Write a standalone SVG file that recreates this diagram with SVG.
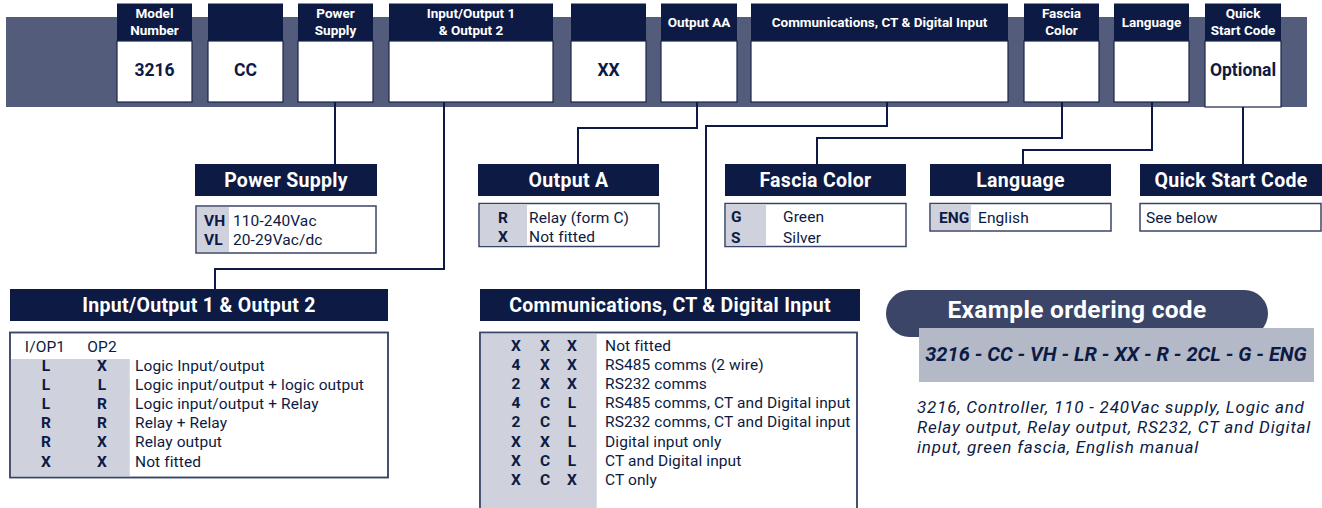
<svg xmlns="http://www.w3.org/2000/svg" width="1322" height="508" viewBox="0 0 1322 508">
<style>
text{font-family:Roboto,"Open Sans","DejaVu Sans",sans-serif;fill:#0c1a44}
.hd{fill:#0c1a44}
.wb{fill:#ffffff;stroke:#1a2448;stroke-width:1.2}
.ht{font-size:13.5px;font-weight:bold;fill:#ffffff;text-anchor:middle}
.val{font-size:17.5px;font-weight:bold;text-anchor:middle}
.st{font-size:19.5px;font-weight:bold;fill:#ffffff;text-anchor:middle;letter-spacing:0.3px}
.tb{fill:#ffffff;stroke:#3a4467;stroke-width:1.5}
.tbo{fill:none;stroke:#3a4467;stroke-width:1.5}
.gc{fill:#cfd2dc}
.t{font-size:15.5px;letter-spacing:0.1px}
.b{font-size:15.5px;font-weight:bold}
.m{text-anchor:middle}
.con{fill:none;stroke:#0c1a44;stroke-width:2}
.it{font-size:17px;font-style:italic;letter-spacing:0.8px}
</style>
<rect x="6" y="17" width="1301" height="90" fill="#535d7b"/>
<g id="box-model">
<rect class="hd" x="117" y="3.5" width="75" height="38"/>
<rect class="wb" x="117" y="41" width="75" height="61"/>
<text class="ht" x="154.5" y="18">Model</text>
<text class="ht" x="154.5" y="34.5">Number</text>
<text class="val" x="154.5" y="75.5">3216</text>
</g>
<g id="box-cc">
<rect class="hd" x="208" y="3.5" width="75" height="38"/>
<rect class="wb" x="208" y="41" width="75" height="61"/>
<text class="val" x="245.5" y="75.5">CC</text>
</g>
<g id="box-ps">
<rect class="hd" x="298" y="3.5" width="75" height="38"/>
<rect class="wb" x="298" y="41" width="75" height="61"/>
<text class="ht" x="335.5" y="18">Power</text>
<text class="ht" x="335.5" y="34.5">Supply</text>
</g>
<g id="box-io">
<rect class="hd" x="389" y="3.5" width="164" height="38"/>
<rect class="wb" x="389" y="41" width="164" height="61"/>
<text class="ht" x="471" y="18">Input/Output 1</text>
<text class="ht" x="471" y="34.5">&amp; Output 2</text>
</g>
<g id="box-xx">
<rect class="hd" x="571" y="3.5" width="75" height="38"/>
<rect class="wb" x="571" y="41" width="75" height="61"/>
<text class="val" x="608.5" y="75.5">XX</text>
</g>
<g id="box-oaa">
<rect class="hd" x="661" y="3.5" width="76" height="38"/>
<rect class="wb" x="661" y="41" width="76" height="61"/>
<text class="ht" x="699" y="27">Output AA</text>
</g>
<g id="box-comms">
<rect class="hd" x="751" y="3.5" width="257" height="38"/>
<rect class="wb" x="751" y="41" width="257" height="61"/>
<text class="ht" x="879.5" y="27">Communications, CT &amp; Digital Input</text>
</g>
<g id="box-fascia">
<rect class="hd" x="1024" y="3.5" width="75" height="38"/>
<rect class="wb" x="1024" y="41" width="75" height="61"/>
<text class="ht" x="1061.5" y="18">Fascia</text>
<text class="ht" x="1061.5" y="34.5">Color</text>
</g>
<g id="box-lang">
<rect class="hd" x="1114" y="3.5" width="75" height="38"/>
<rect class="wb" x="1114" y="41" width="75" height="61"/>
<text class="ht" x="1151.5" y="27">Language</text>
</g>
<g id="box-qsc">
<rect class="hd" x="1205" y="3.5" width="76" height="38"/>
<rect class="wb" x="1205" y="41" width="76" height="66"/>
<text class="ht" x="1243" y="18">Quick</text>
<text class="ht" x="1243" y="34.5">Start Code</text>
<text class="val" x="1243" y="75.5">Optional</text>
</g>
<g id="connectors">
<path class="con" d="M335,102 V164"/>
<path class="con" d="M444,102 V269 H215 V289"/>
<path class="con" d="M697,102 V128 H578 V164"/>
<path class="con" d="M887,102 V126 H706 V289"/>
<path class="con" d="M1062,102 V138 H817 V164"/>
<path class="con" d="M1152,102 V150 H1023 V164"/>
<path class="con" d="M1243,107 V164"/>
</g>
<g id="sec-ps">
<rect class="hd" x="195" y="164" width="182" height="32"/>
<text class="st" x="286" y="187">Power Supply</text>
<rect class="tb" x="196" y="206" width="180" height="47"/>
<rect class="gc" x="197" y="207" width="32" height="45"/>
<text class="b" x="204" y="225.5">VH</text>
<text class="t" x="233" y="225.5">110-240Vac</text>
<text class="b" x="204" y="244.5">VL</text>
<text class="t" x="233" y="244.5">20-29Vac/dc</text>
</g>
<g id="sec-oa">
<rect class="hd" x="478" y="164" width="181" height="32"/>
<text class="st" x="568.5" y="187">Output A</text>
<rect class="tb" x="479" y="203.5" width="180" height="43"/>
<rect class="gc" x="480" y="204.5" width="47" height="41"/>
<text class="b m" x="503" y="222.5">R</text>
<text class="t" x="529" y="222.5">Relay (form C)</text>
<text class="b m" x="503" y="242">X</text>
<text class="t" x="529" y="242">Not fitted</text>
</g>
<g id="sec-fascia">
<rect class="hd" x="725" y="164" width="181" height="32"/>
<text class="st" x="815.5" y="187">Fascia Color</text>
<rect class="tb" x="725" y="203.5" width="181" height="43"/>
<rect class="gc" x="726" y="204.5" width="40" height="41"/>
<text class="b" x="731" y="222">G</text>
<text class="t" x="783" y="222">Green</text>
<text class="b" x="731" y="242.5">S</text>
<text class="t" x="783" y="242.5">Silver</text>
</g>
<g id="sec-lang">
<rect class="hd" x="930" y="164" width="181" height="32"/>
<text class="st" x="1020.5" y="187">Language</text>
<rect class="tb" x="930" y="203.5" width="181" height="27.5"/>
<rect class="gc" x="931" y="204.5" width="40" height="25.5"/>
<text class="b" x="939" y="222.5">ENG</text>
<text class="t" x="978" y="222.5">English</text>
</g>
<g id="sec-qsc">
<rect class="hd" x="1140" y="164" width="182" height="32"/>
<text class="st" x="1231" y="187">Quick Start Code</text>
<rect class="tb" x="1140" y="203.5" width="181" height="27.5"/>
<text class="t" x="1146" y="222.5">See below</text>
</g>
<g id="sec-io">
<rect class="hd" x="10" y="289" width="378" height="32"/>
<text class="st" x="199" y="311.5">Input/Output 1 &amp; Output 2</text>
<rect class="tb" x="10" y="332.5" width="378" height="145"/>
<rect class="gc" x="10.75" y="359" width="119" height="117.75"/>
<rect class="tbo" x="10" y="332.5" width="378" height="145"/>
<text class="t m" x="45" y="352">I/OP1</text>
<text class="t m" x="102" y="352">OP2</text>
<text class="b m" x="46" y="370.5">L</text><text class="b m" x="102" y="370.5">X</text><text class="t" x="135" y="370.5">Logic Input/output</text>
<text class="b m" x="46" y="389.7">L</text><text class="b m" x="102" y="389.7">L</text><text class="t" x="135" y="389.7">Logic input/output + logic output</text>
<text class="b m" x="46" y="408.9">L</text><text class="b m" x="102" y="408.9">R</text><text class="t" x="135" y="408.9">Logic input/output + Relay</text>
<text class="b m" x="46" y="428.1">R</text><text class="b m" x="102" y="428.1">R</text><text class="t" x="135" y="428.1">Relay + Relay</text>
<text class="b m" x="46" y="447.3">R</text><text class="b m" x="102" y="447.3">X</text><text class="t" x="135" y="447.3">Relay output</text>
<text class="b m" x="46" y="466.5">X</text><text class="b m" x="102" y="466.5">X</text><text class="t" x="135" y="466.5">Not fitted</text>
</g>
<g id="sec-comms">
<rect class="hd" x="480" y="289" width="380" height="32"/>
<text class="st" x="670" y="311.5">Communications, CT &amp; Digital Input</text>
<rect class="tb" x="480" y="332.5" width="377" height="185"/>
<rect class="gc" x="480.75" y="333.25" width="116" height="180"/>
<rect class="tbo" x="480" y="332.5" width="377" height="185"/>
<text class="b m" x="516" y="350.5">X</text><text class="b m" x="545" y="350.5">X</text><text class="b m" x="572" y="350.5">X</text><text class="t" x="605" y="350.5">Not fitted</text>
<text class="b m" x="516" y="369.7">4</text><text class="b m" x="545" y="369.7">X</text><text class="b m" x="572" y="369.7">X</text><text class="t" x="605" y="369.7">RS485 comms (2 wire)</text>
<text class="b m" x="516" y="388.9">2</text><text class="b m" x="545" y="388.9">X</text><text class="b m" x="572" y="388.9">X</text><text class="t" x="605" y="388.9">RS232 comms</text>
<text class="b m" x="516" y="408.1">4</text><text class="b m" x="545" y="408.1">C</text><text class="b m" x="572" y="408.1">L</text><text class="t" x="605" y="408.1">RS485 comms, CT and Digital input</text>
<text class="b m" x="516" y="427.3">2</text><text class="b m" x="545" y="427.3">C</text><text class="b m" x="572" y="427.3">L</text><text class="t" x="605" y="427.3">RS232 comms, CT and Digital input</text>
<text class="b m" x="516" y="446.5">X</text><text class="b m" x="545" y="446.5">X</text><text class="b m" x="572" y="446.5">L</text><text class="t" x="605" y="446.5">Digital input only</text>
<text class="b m" x="516" y="465.7">X</text><text class="b m" x="545" y="465.7">C</text><text class="b m" x="572" y="465.7">L</text><text class="t" x="605" y="465.7">CT and Digital input</text>
<text class="b m" x="516" y="484.9">X</text><text class="b m" x="545" y="484.9">C</text><text class="b m" x="572" y="484.9">X</text><text class="t" x="605" y="484.9">CT only</text>
</g>
<g id="example">
<rect x="886" y="290" width="382" height="47" rx="23.5" fill="#3b4567"/>
<text x="1077" y="317.5" style="font-size:24.5px;font-weight:bold;fill:#ffffff;text-anchor:middle;letter-spacing:0.3px">Example ordering code</text>
<rect x="919" y="328" width="395" height="54" fill="#b4b9c7"/>
<text x="1116" y="361" style="font-size:20px;font-weight:bold;font-style:italic;text-anchor:middle">3216 - CC - VH - LR - XX - R - 2CL - G - ENG</text>
<text class="it" x="917" y="412.5">3216, Controller, 110 - 240Vac supply, Logic and</text>
<text class="it" x="917" y="432.5">Relay output, Relay output, RS232, CT and Digital</text>
<text class="it" x="917" y="452.5">input, green fascia, English manual</text>
</g>
</svg>
